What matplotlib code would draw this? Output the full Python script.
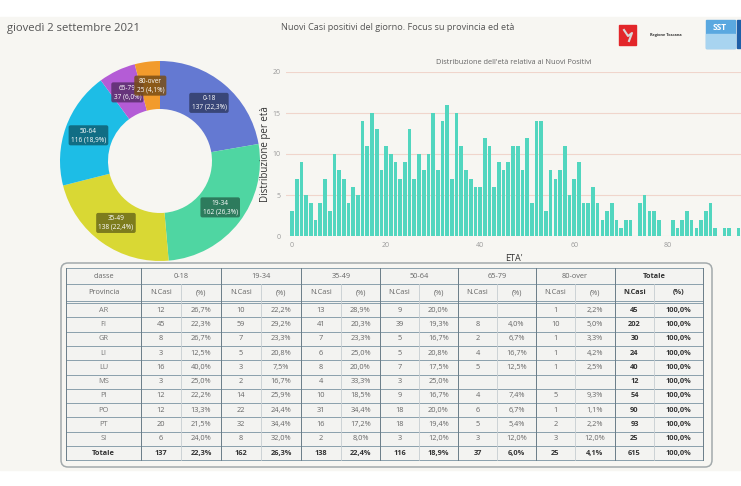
import numpy as np
import matplotlib.pyplot as plt
import matplotlib.colors as mcolors
from matplotlib.patches import Rectangle, FancyBboxPatch

plt.rcParams['font.family'] = ['Open Sans', 'DejaVu Sans']

W, H = 741, 486

# age classes (donut + table header)
classes = ['0-18', '19-34', '35-49', '50-64', '65-79', '80-over']
class_colors = ['#6479d2', '#4fd6a2', '#d9d834', '#1dbde6', '#b45cd6', '#f29b2c']

# new positives per single year of age
ages = list(range(0, 96)) + [97]
age_counts = [3, 7, 9, 5, 4, 2, 4, 7, 3, 10, 8, 7, 4, 6, 5, 14, 11, 15, 13,
              8, 11, 10, 9, 7, 9, 13, 7, 10, 8, 10, 15, 8, 14, 16, 7,
              15, 11, 8, 7, 6, 6, 12, 11, 6, 9, 8, 9, 11, 11, 8,
              12, 4, 14, 14, 3, 8, 7, 8, 11, 5, 7, 9, 4, 4, 6,
              4, 2, 3, 4, 2, 1, 2, 2, 0, 4, 5, 3, 3, 2, 0,
              0, 2, 1, 2, 3, 2, 1, 2, 3, 4, 1, 0, 1, 1, 0, 1, 1]

# table: cases per province and age class (0 = empty cell)
provinces = ['AR', 'FI', 'GR', 'LI', 'LU', 'MS', 'PI', 'PO', 'PT', 'SI']
cases_0_18 = [12, 45, 8, 3, 16, 3, 12, 12, 20, 6]
cases_19_34 = [10, 59, 7, 5, 3, 2, 14, 22, 32, 8]
cases_35_49 = [13, 41, 7, 6, 8, 4, 10, 31, 16, 2]
cases_50_64 = [9, 39, 5, 5, 7, 3, 9, 18, 18, 3]
cases_65_79 = [0, 8, 2, 4, 5, 0, 4, 6, 5, 3]
cases_80_over = [1, 10, 1, 1, 1, 0, 5, 1, 2, 3]

cases = np.array([cases_0_18, cases_19_34, cases_35_49,
                  cases_50_64, cases_65_79, cases_80_over]).T
prov_tot = cases.sum(axis=1)
class_tot = cases.sum(axis=0)
grand_tot = cases.sum()


def pct(v, tot):
    return f"{100 * v / tot:.1f}%".replace('.', ',')


def px_axes(x0, y0, x1, y1):
    return fig.add_axes([x0 / W, 1 - y1 / H, (x1 - x0) / W, (y1 - y0) / H])


fig = plt.figure(figsize=(W / 100, H / 100), dpi=100)
fig.patch.set_facecolor('white')

# overlay in pixel coordinates for backgrounds, header and table
ov = fig.add_axes([0, 0, 1, 1])
ov.set_xlim(0, W)
ov.set_ylim(H, 0)
ov.axis('off')
ov.add_patch(Rectangle((0, 17), W, 453, color='#f7f6f2', zorder=0))

ov.text(7, 29, 'giovedì 2 settembre 2021', fontsize=8.1, color='#555555', va='center')
ov.text(398, 27, 'Nuovi Casi positivi del giorno. Focus su provincia ed età',
        fontsize=6.6, color='#555555', va='center', ha='center')

# logos (simplified)
ov.add_patch(Rectangle((619, 25), 17, 20, color='#e3262a', zorder=2))
ov.plot([624, 628, 632, 629], [30, 36, 33, 41], color='#d8d8d8', lw=1.5, zorder=3)
ov.text(650, 35, 'Regione Toscana', fontsize=2.8, fontweight='bold', color='#333333',
        va='center', zorder=3)
ov.add_patch(Rectangle((706, 20), 29, 28, color='#5aa8e0', zorder=2))
ov.add_patch(Rectangle((706, 34), 29, 14, color='#a8d4f0', zorder=2))
ov.text(720, 27, 'SST', fontsize=6, fontweight='bold', color='white', ha='center',
        va='center', zorder=3)
ov.add_patch(Rectangle((737, 20), 5, 28, color='#1f5fa8', zorder=2))

# table
ov.add_patch(FancyBboxPatch((61, 263), 651, 204, boxstyle='round,pad=0,rounding_size=7',
                            fc='#f7f6f2', ec='#a3aaac', lw=1.1, zorder=1))
col_edges = [66, 141, 181, 221, 261, 301, 341, 380, 419, 458, 497, 536, 575, 615, 654, 703]
row_h = 14.3
top, h1, h2, data_top = 268, 284, 301, 303
bottom = data_top + 11 * row_h
ov.add_patch(Rectangle((66, top), 703 - 66, bottom - top, fc='#f3f3f1', ec='none', zorder=1))

hcol = '#8aa0ac'
for y in [top, h1, h2, data_top] + [data_top + i * row_h for i in range(1, 11)] + [bottom]:
    ov.plot([66, 703], [y, y], color=hcol, lw=0.7, zorder=2)
for i, x in enumerate(col_edges):
    if i in (0, 1, 3, 5, 7, 9, 11, 13, 15):
        ov.plot([x, x], [top, bottom], color='#6a7d88', lw=0.7, zorder=2)
    else:
        ov.plot([x, x], [h1, bottom], color='#c6cdd1', lw=0.6, zorder=2)

txt = '#666666'
fs = 5.3
cx = [(col_edges[i] + col_edges[i + 1]) / 2 for i in range(len(col_edges) - 1)]
ov.text(cx[0], (top + h1) / 2, 'classe', fontsize=fs, color=txt, ha='center', va='center', zorder=3)
ov.text(cx[0], (h1 + h2) / 2, 'Provincia', fontsize=fs, color=txt, ha='center', va='center', zorder=3)
for j, c in enumerate(classes):
    xm = col_edges[1 + 2 * j + 1]
    ov.text(xm, (top + h1) / 2, c, fontsize=fs, color=txt, ha='center', va='center', zorder=3)
    ov.text(cx[1 + 2 * j], (h1 + h2) / 2, 'N.Casi', fontsize=fs, color=txt, ha='center', va='center', zorder=3)
    ov.text(cx[2 + 2 * j], (h1 + h2) / 2, '(%)', fontsize=fs, color=txt, ha='center', va='center', zorder=3)
ov.text(col_edges[14], (top + h1) / 2, 'Totale', fontsize=fs, color='#333333', fontweight='bold',
        ha='center', va='center', zorder=3)
ov.text(cx[13], (h1 + h2) / 2, 'N.Casi', fontsize=fs, color='#333333', fontweight='bold',
        ha='center', va='center', zorder=3)
ov.text(cx[14], (h1 + h2) / 2, '(%)', fontsize=fs, color='#333333', fontweight='bold',
        ha='center', va='center', zorder=3)

for i, p in enumerate(provinces):
    y = data_top + (i + 0.5) * row_h
    ov.text(cx[0], y, p, fontsize=fs, color='#777777', ha='center', va='center', zorder=3)
    for j in range(len(classes)):
        v = cases[i, j]
        if v > 0:
            ov.text(cx[1 + 2 * j], y, str(v), fontsize=fs, color=txt, ha='center', va='center', zorder=3)
            ov.text(cx[2 + 2 * j], y, pct(v, prov_tot[i]), fontsize=fs, color=txt,
                    ha='center', va='center', zorder=3)
    ov.text(cx[13], y, str(prov_tot[i]), fontsize=fs, color='#333333', fontweight='bold',
            ha='center', va='center', zorder=3)
    ov.text(cx[14], y, '100,0%', fontsize=fs, color='#333333', fontweight='bold',
            ha='center', va='center', zorder=3)

y = data_top + 10.5 * row_h
ov.text(cx[0], y, 'Totale', fontsize=fs, color='#333333', fontweight='bold', ha='center', va='center', zorder=3)
for j in range(len(classes)):
    ov.text(cx[1 + 2 * j], y, str(class_tot[j]), fontsize=fs, color='#333333', fontweight='bold',
            ha='center', va='center', zorder=3)
    ov.text(cx[2 + 2 * j], y, pct(class_tot[j], grand_tot), fontsize=fs, color='#333333',
            fontweight='bold', ha='center', va='center', zorder=3)
ov.text(cx[13], y, str(grand_tot), fontsize=fs, color='#333333', fontweight='bold',
        ha='center', va='center', zorder=3)
ov.text(cx[14], y, '100,0%', fontsize=fs, color='#333333', fontweight='bold',
        ha='center', va='center', zorder=3)

# donut
axd = px_axes(60, 61, 260, 261)
axd.pie(class_tot, colors=class_colors, startangle=90, counterclock=False,
        wedgeprops=dict(width=0.48, edgecolor='none'))
axd.set_xlim(-1, 1)
axd.set_ylim(-1, 1)
axd.set_aspect('equal')
axd.patch.set_alpha(0)
cum = np.cumsum(class_tot) - class_tot / 2
for j, c in enumerate(classes):
    ang = np.deg2rad(90 - 360 * cum[j] / grand_tot)
    r = 0.76
    box = np.array(mcolors.to_rgb(class_colors[j])) * 0.5
    axd.text(r * np.cos(ang), r * np.sin(ang),
             f"{c}\n{class_tot[j]} ({pct(class_tot[j], grand_tot)})",
             fontsize=4.7, color='white', ha='center', va='center', linespacing=1.3,
             bbox=dict(boxstyle='round,pad=0.35,rounding_size=0.3', fc=box, ec='none', alpha=0.85))

# histogram
axh = px_axes(286, 72, 741, 236)
axh.bar(ages, age_counts, width=0.78, color='#52d6bf', zorder=2)
axh.set_xlim(-1.3, 95.5)
axh.set_ylim(0, 20)
axh.set_yticks([0, 5, 10, 15, 20])
axh.set_xticks([0, 20, 40, 60, 80])
axh.grid(axis='y', color='#f0d5cc', lw=0.8, zorder=0)
axh.tick_params(length=0, labelsize=5, labelcolor='#9a9a9a', pad=4)
for s in axh.spines.values():
    s.set_visible(False)
axh.patch.set_alpha(0)
axh.set_title("Distribuzione dell'età relativa ai Nuovi Positivi", fontsize=5.3, color='#666666', pad=6)
axh.set_ylabel('Distribuzione per età', fontsize=7, color='#333333', labelpad=1)
axh.set_xlabel("ETA'", fontsize=6.5, color='#333333', labelpad=4)

fig.savefig('out.png', dpi=100)
